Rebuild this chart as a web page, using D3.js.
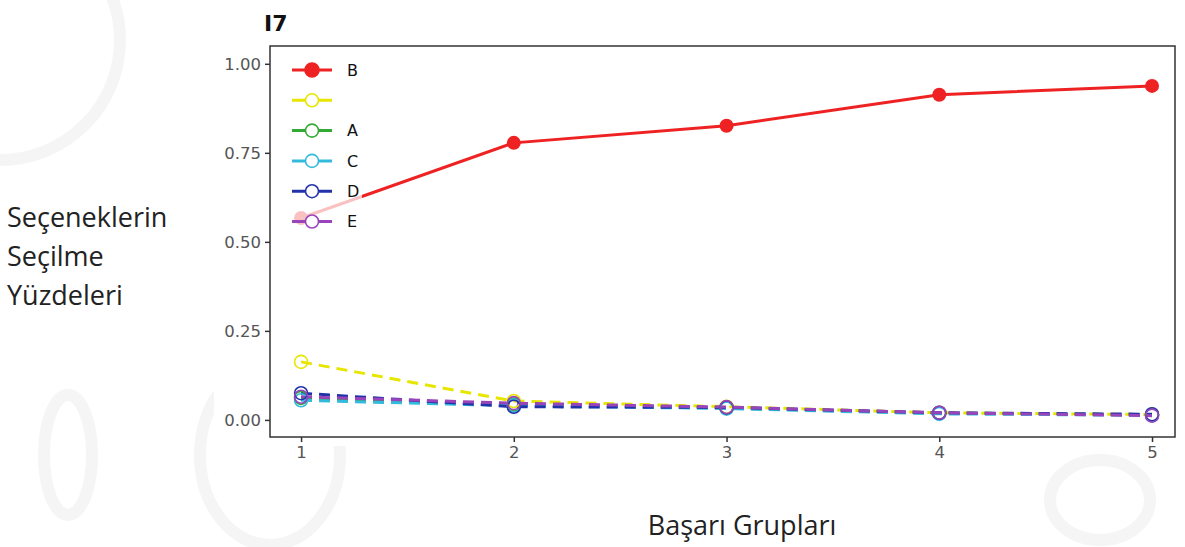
<!DOCTYPE html>
<html>
<head>
<meta charset="utf-8">
<script src="https://cdn.jsdelivr.net/npm/d3@7"></script>
<style>
  body { margin: 0; background: #fff; }
  svg { display: block; }
</style>
</head>
<body>
<div id="chart"></div>
<script>
// ---------------------------- DATA ----------------------------//
const groups = [1, 2, 3, 4, 5];
const seriesNames = ['B', '', 'A', 'C', 'D', 'E'];
const seriesColors = ['#ee2222', '#e6e600', '#33aa33', '#33bbdd', '#2233aa', '#9944bb'];
const valuesB = [0.567, 0.778, 0.826, 0.913, 0.938];
const valuesBlank = [0.163, 0.053, 0.037, 0.020, 0.015];
const valuesA = [0.062, 0.043, 0.033, 0.019, 0.014];
const valuesC = [0.055, 0.040, 0.032, 0.017, 0.013];
const valuesD = [0.075, 0.037, 0.035, 0.020, 0.016];
const valuesE = [0.065, 0.047, 0.036, 0.020, 0.012];
const yTicks = [0, 0.25, 0.5, 0.75, 1];

const width = 1185;
const height = 547;
const plot = { left: 270, right: 1175, top: 46, bottom: 437 };

const svg = d3.select('#chart').append('svg')
  .attr('width', width)
  .attr('height', height);

// faint watermark strokes in the background
const wm = svg.append('g').attr('fill', 'none').attr('stroke', '#f5f5f5').attr('stroke-width', 12);
wm.append('circle').attr('cx', 0).attr('cy', 40).attr('r', 120);
wm.append('ellipse').attr('cx', 68).attr('cy', 455).attr('rx', 24).attr('ry', 60);
wm.append('ellipse').attr('cx', 270).attr('cy', 455).attr('rx', 70).attr('ry', 90);
wm.append('ellipse').attr('cx', 1100).attr('cy', 500).attr('rx', 50).attr('ry', 40);

// chart image panel
svg.append('rect')
  .attr('x', 214).attr('y', 0)
  .attr('width', width - 214).attr('height', 446)
  .attr('fill', '#fff');

// ---------------------------- SCALES ----------------------------//
const x = d3.scaleLinear()
  .domain([0.854, 5.108])
  .range([plot.left, plot.right]);
const y = d3.scaleLinear()
  .domain([-0.048, 1.05])
  .range([plot.bottom, plot.top]);

// ---------------------------- AXES ----------------------------//
const yAxis = d3.axisLeft(y).tickValues(yTicks).tickFormat(d3.format('.2f')).tickSize(5).tickPadding(4);
const xAxis = d3.axisBottom(x).tickValues(groups).tickFormat(d3.format('d')).tickSize(5).tickPadding(4);

const gy = svg.append('g').attr('transform', `translate(${plot.left},0)`).call(yAxis);
const gx = svg.append('g').attr('transform', `translate(0,${plot.bottom})`).call(xAxis);
[gx, gy].forEach(g => {
  g.select('.domain').remove();
  g.selectAll('line').attr('stroke', '#333').attr('stroke-width', 1.5);
  g.selectAll('text')
    .attr('fill', '#555')
    .style('font-family', 'DejaVu Sans')
    .style('font-size', '16.5px');
});

// ---------------------------- LINES ----------------------------//
const allValues = [valuesB, valuesBlank, valuesA, valuesC, valuesD, valuesE];
const series = seriesNames.map((name, i) => ({
  name,
  color: seriesColors[i],
  values: allValues[i].map((v, j) => ({ g: groups[j], v })),
}));

const line = d3.line()
  .x(d => x(d.g))
  .y(d => y(d.v));

const dashed = series.slice(1);
const lines = svg.append('g');

dashed.forEach(s => {
  lines.append('path')
    .attr('d', line(s.values))
    .attr('fill', 'none')
    .attr('stroke', s.color)
    .attr('stroke-width', 3)
    .attr('stroke-dasharray', '11,7');
});
dashed.forEach(s => {
  lines.selectAll(null)
    .data(s.values)
    .enter()
    .append('circle')
    .attr('cx', d => x(d.g))
    .attr('cy', d => y(d.v))
    .attr('r', 6.5)
    .attr('fill', 'none')
    .attr('stroke', s.color)
    .attr('stroke-width', 1.6);
});

const b = series[0];
lines.append('path')
  .attr('d', line(b.values))
  .attr('fill', 'none')
  .attr('stroke', b.color)
  .attr('stroke-width', 3);
lines.selectAll(null)
  .data(b.values)
  .enter()
  .append('circle')
  .attr('cx', d => x(d.g))
  .attr('cy', d => y(d.v))
  .attr('r', 7)
  .attr('fill', b.color);

// frame
svg.append('rect')
  .attr('x', plot.left).attr('y', plot.top)
  .attr('width', plot.right - plot.left).attr('height', plot.bottom - plot.top)
  .attr('fill', 'none')
  .attr('stroke', '#333')
  .attr('stroke-width', 1.5);

// ---------------------------- LEGEND ----------------------------//
const legend = svg.append('g');
legend.append('rect')
  .attr('x', 276).attr('y', 52)
  .attr('width', 86).attr('height', 182)
  .attr('fill', '#fff')
  .attr('opacity', 0.72);

series.forEach((s, i) => {
  const ly = 70 + i * 30.3;
  const item = legend.append('g').attr('transform', `translate(0,${ly})`);
  item.append('line')
    .attr('x1', 292).attr('x2', 332)
    .attr('stroke', s.color)
    .attr('stroke-width', 3);
  item.append('circle')
    .attr('cx', 312)
    .attr('r', i === 0 ? 7 : 6.5)
    .attr('fill', i === 0 ? s.color : '#fff')
    .attr('stroke', s.color)
    .attr('stroke-width', 1.6);
  item.append('text')
    .attr('x', 347)
    .attr('dy', '0.36em')
    .style('font-family', 'DejaVu Sans')
    .style('font-size', '16px')
    .attr('fill', '#111')
    .text(s.name);
});

// ---------------------------- TITLES ----------------------------//
svg.append('text')
  .attr('x', 264).attr('y', 31)
  .style('font-family', 'DejaVu Sans')
  .style('font-size', '22px')
  .style('font-weight', 'bold')
  .attr('fill', '#111')
  .text('I7');

const yLabel = svg.append('text')
  .style('font-family', 'Open Sans')
  .style('font-size', '27px')
  .attr('fill', '#222');
['Seçeneklerin', 'Seçilme', 'Yüzdeleri'].forEach((t, i) => {
  yLabel.append('tspan')
    .attr('x', 7)
    .attr('y', 227 + i * 39)
    .text(t);
});

svg.append('text')
  .attr('x', 742).attr('y', 535)
  .attr('text-anchor', 'middle')
  .style('font-family', 'Open Sans')
  .style('font-size', '27px')
  .attr('fill', '#222')
  .text('Başarı Grupları');
</script>
</body>
</html>
